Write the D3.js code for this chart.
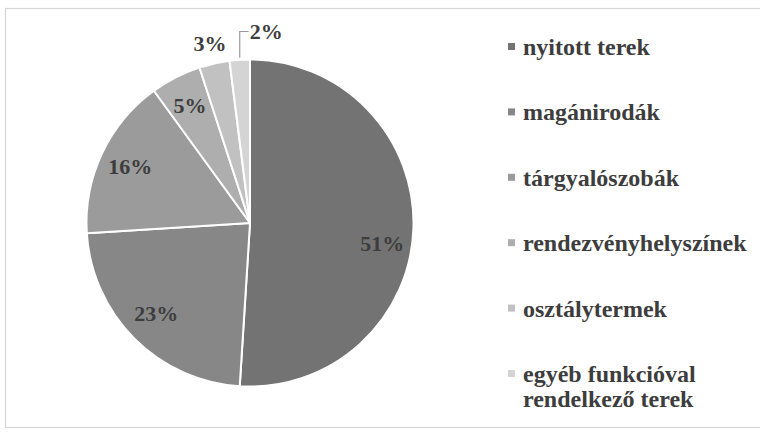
<!DOCTYPE html>
<html>
<head>
<meta charset="utf-8">
<script src="https://cdn.jsdelivr.net/npm/d3@7"></script>
<style>
  html, body { margin: 0; padding: 0; background: #ffffff; }
  svg { display: block; }
</style>
</head>
<body>
<svg id="chart" width="760" height="433"></svg>
<script>
// Shares of office space by function (percent)
const categories = [
  "nyitott terek",
  "magánirodák",
  "tárgyalószobák",
  "rendezvényhelyszínek",
  "osztálytermek",
  "egyéb funkcióval rendelkező terek"
];
const values = [51, 23, 16, 5, 3, 2];
const legendLines = [
  ["nyitott terek"],
  ["magánirodák"],
  ["tárgyalószobák"],
  ["rendezvényhelyszínek"],
  ["osztálytermek"],
  ["egyéb funkcióval", "rendelkező terek"]
];

const greys = ["#737373", "#878787", "#9b9b9b", "#aeaeae", "#c1c1c1", "#d4d4d4"];
const labelColor = "#3d3d3d";
const serif = "'Liberation Serif', 'Times New Roman', serif";

const svg = d3.select("#chart");
const W = 760, H = 433;

// outer frame
svg.append("rect")
  .attr("x", 5.5).attr("y", 8.5)
  .attr("width", W).attr("height", 419)
  .attr("fill", "#ffffff")
  .attr("stroke", "#d6d6d6")
  .attr("stroke-width", 1.2);

const cx = 250, cy = 223, R = 163.5;
const color = d3.scaleOrdinal().domain(categories).range(greys);

const data = categories.map((c, i) => ({ cat: c, value: values[i] }));
const pie = d3.pie().value(d => d.value).sort(null);
const arcs = pie(data);
const arc = d3.arc().innerRadius(0).outerRadius(R);

const g = svg.append("g").attr("transform", `translate(${cx},${cy})`);

g.selectAll("path.slice")
  .data(arcs)
  .join("path")
  .attr("class", "slice")
  .attr("d", arc)
  .attr("fill", d => color(d.data.cat))
  .attr("stroke", "#ffffff")
  .attr("stroke-width", 2)
  .attr("stroke-linejoin", "round");

// value labels: inside for the bigger slices, outside for the thin ones
const inner = d3.arc().innerRadius(R * 0.81).outerRadius(R * 0.81);
const outer = d3.arc().innerRadius(R + 20).outerRadius(R + 20);
const nudgeY = [16, -3, 0, 0, 0, 0];
const fmt = v => v + "%";
const labelSize = 22;

arcs.forEach((a, i) => {
  const mid = (a.startAngle + a.endAngle) / 2;
  if (a.data.value >= 5) {
    const [x, y] = inner.centroid(a);
    g.append("text")
      .attr("x", x).attr("y", y + nudgeY[i])
      .attr("text-anchor", "middle")
      .attr("dominant-baseline", "central")
      .attr("font-family", serif).attr("font-weight", "bold")
      .attr("font-size", labelSize).attr("fill", labelColor)
      .text(fmt(a.data.value));
  } else if (a.data.value >= 3) {
    const [x, y] = outer.centroid(a);
    g.append("text")
      .attr("x", x).attr("y", y)
      .attr("text-anchor", "middle")
      .attr("dominant-baseline", "central")
      .attr("font-family", serif).attr("font-weight", "bold")
      .attr("font-size", labelSize).attr("fill", labelColor)
      .text(fmt(a.data.value));
  } else {
    // leader line from the arc edge up and over to the label
    const sx = R * Math.sin(mid), sy = -R * Math.cos(mid);
    const ey = -(R + 28);
    g.append("path")
      .attr("d", `M${sx},${sy - 2}L${sx},${ey}L${sx + 9},${ey}`)
      .attr("fill", "none")
      .attr("stroke", "#9a9a9a")
      .attr("stroke-width", 1.2);
    g.append("text")
      .attr("x", sx + 10).attr("y", ey)
      .attr("text-anchor", "start")
      .attr("dominant-baseline", "central")
      .attr("font-family", serif).attr("font-weight", "bold")
      .attr("font-size", labelSize).attr("fill", labelColor)
      .text(fmt(a.data.value));
  }
});

// legend
const legX = 508, legY0 = 55, legStep = 65.4, lineH = 25;
const leg = svg.append("g");
legendLines.forEach((lines, i) => {
  const by = legY0 + i * legStep;
  leg.append("rect")
    .attr("x", legX).attr("y", by - 12)
    .attr("width", 7).attr("height", 7)
    .attr("fill", greys[i]);
  const t = leg.append("text")
    .attr("x", legX + 15).attr("y", by)
    .attr("font-family", serif).attr("font-weight", "bold")
    .attr("font-size", 24).attr("fill", labelColor);
  lines.forEach((ln, j) => {
    t.append("tspan").attr("x", legX + 15).attr("y", by + j * lineH).text(ln);
  });
});
</script>
</body>
</html>
